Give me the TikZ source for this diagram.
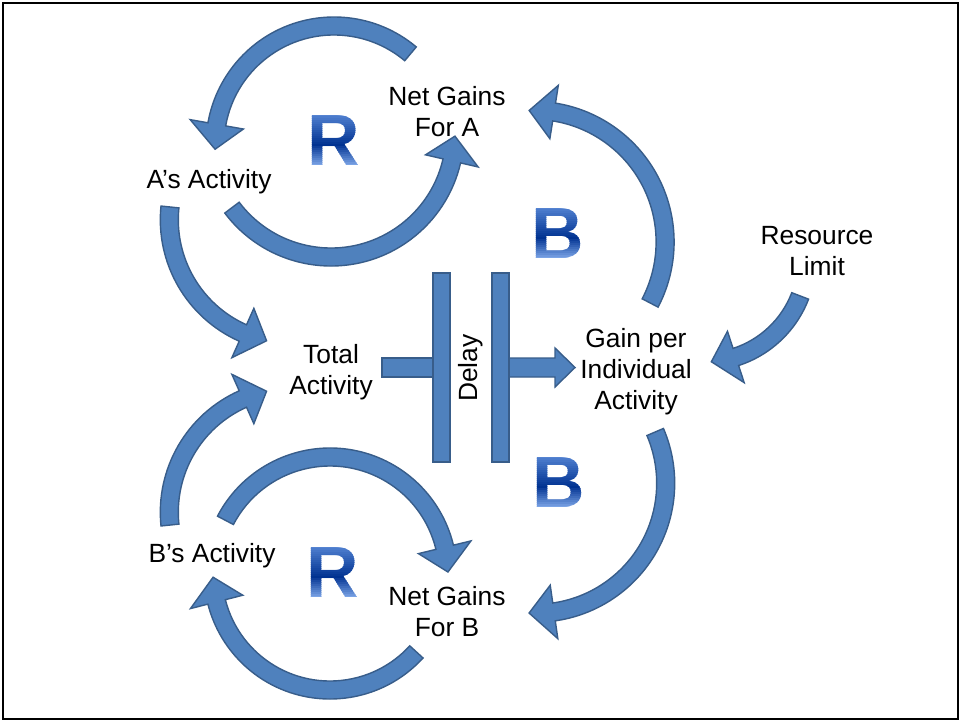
\documentclass[tikz,border=0pt]{standalone}
\usepackage{fontspec}
\setmainfont{Liberation Sans}
\usetikzlibrary{calc}

\definecolor{arrowfill}{RGB}{79,129,189}
\definecolor{arrowline}{RGB}{56,93,138}
\definecolor{lettertop}{RGB}{80,128,208}
\definecolor{letterbottom}{RGB}{135,175,238}
\definecolor{letterdark}{RGB}{0,50,145}

\tikzset{
  fatarrow/.style={line width=1.2pt, draw=arrowline, fill=arrowfill, line join=miter},
  labeltext/.style={font=\fontsize{22.5}{26.4}\selectfont, align=center, inner sep=0pt},
  letterstyle/.style={font=\bfseries\fontsize{62}{62}\selectfont, inner sep=0pt}
}

\begin{document}
\begin{tikzpicture}[x=0.1cm, y=0.1cm]

\def\aw{18}
\def\hw{54}
\def\hl{25}

% centre x, centre y, radius, tail angle, head angle (all in px)
\def\fatarc#1#2#3#4#5{%
  \pgfmathsetmacro\rout{(#3+\aw/2)*0.1}%
  \pgfmathsetmacro\rin{(#3-\aw/2)*0.1}%
  \pgfmathsetmacro\rmid{#3*0.1}%
  \pgfmathsetmacro\hout{(#3+\hw/2)*0.1}%
  \pgfmathsetmacro\hin{(#3-\hw/2)*0.1}%
  \pgfmathsetmacro\tipa{#5+sign(#5-#4)*\hl*57.2958/#3}%
  \filldraw [fatarrow] ($(#1,#2)+(#4:\rout cm)$) arc [start angle=#4, end angle=#5, radius=\rout cm]
    -- ($(#1,#2)+(#5:\hout cm)$) -- ($(#1,#2)+(\tipa:\rmid cm)$) -- ($(#1,#2)+(#5:\hin cm)$)
    -- ($(#1,#2)+(#5:\rin cm)$) arc [start angle=#5, end angle=#4, radius=\rin cm] -- cycle;
}

% centre x, centre y, letter: drawn in thin bands for the shading
\def\loopletter#1#2#3{%
  \foreach \i in {0,...,26} {%
    \pgfmathsetmacro\ytop{#2-27+2*\i}%
    \ifnum\i<15
      \pgfmathtruncatemacro\mixv{100*\i/15}%
      \def\lc{letterdark!\mixv!lettertop}%
    \else
      \pgfmathtruncatemacro\mixv{100*(26-\i)/11}%
      \def\lc{letterdark!\mixv!letterbottom}%
    \fi
    \begin{scope}
      \clip (#1-40,\ytop) rectangle (#1+40,\ytop+2.4);
      \node [letterstyle, text=\lc] at (#1,#2) {#3};
    \end{scope}
  }%
}

\begin{scope}[xscale=0.3, yscale=-0.3]
\path [use as bounding box] (0,0) rectangle (961,722);

% BORDER
\draw [line width=2.5pt] (3,3) rectangle (958,719);

% LOOP A
\fatarc{334}{145}{119}{310}{190}
\fatarc{331}{133}{124}{143}{13}

% LOOP B
\fatarc{330}{575}{118}{207.6}{346.4}
\fatarc{330}{573}{117}{42.4}{165.7}

% INTO TOTAL
\fatarc{293.3}{219.7}{124}{185.9}{114}
\fatarc{293.3}{512.3}{124}{174.1}{246}

% OUT OF GAIN
\fatarc{533.5}{242}{131.6}{27.6}{-81}
\fatarc{535.7}{483.2}{130}{-23.2}{81.9}

% LIMIT
\fatarc{704}{259}{103}{21}{72}

% DELAY
\filldraw [fatarrow] (382,358) rectangle (436,377);
\filldraw [fatarrow] (506,358) -- (555,358) -- (555,348) -- (575,367.5) -- (555,387) -- (555,377) -- (506,377) -- cycle;
\filldraw [fatarrow] (433,273) rectangle (450,462);
\filldraw [fatarrow] (492,273) rectangle (509,462);
\node [labeltext, rotate=90] (delay) at (471,368) {Delay};

% LABELS
\node [labeltext] (netA) at (447,112) {Net Gains\\For A};
\node [labeltext] (actA) at (209,182) {A’s Activity};
\node [labeltext] (limit) at (817,251) {Resource\\Limit};
\node [labeltext] (total) at (331,372) {Total\\Activity};
\node [labeltext] (gain) at (636,372) {Gain per\\Individual\\Activity};
\node [labeltext] (actB) at (212,556) {B’s Activity};
\node [labeltext] (netB) at (447,612) {Net Gains\\For B};

% LOOP LETTERS
\loopletter{334}{141}{R}
\loopletter{558}{234}{B}
\loopletter{559}{483}{B}
\loopletter{333}{573}{R}
\end{scope}

\end{tikzpicture}
\end{document}
